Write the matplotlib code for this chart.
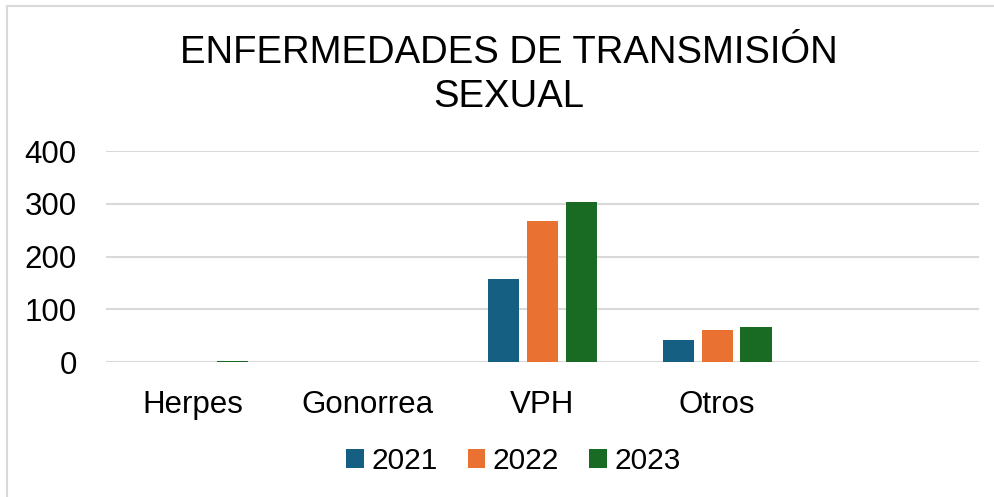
import matplotlib.pyplot as plt
import numpy as np
from matplotlib.patches import Rectangle

plt.rcParams['font.family'] = ['Liberation Sans', 'DejaVu Sans']

CATEGORIES = ['Herpes', 'Gonorrea', 'VPH', 'Otros', '']
YEARS = ['2021', '2022', '2023']
V2021 = [0, 0, 157, 42, 0]
V2022 = [0, 0, 268, 61, 0]
V2023 = [2, 0, 303, 66, 0]
COLORS = ['#156082', '#E97132', '#196B24']

fig = plt.figure(figsize=(9.95, 4.97), dpi=100)
ax = fig.add_axes([0.1065, 0.2716, 0.8774, 0.4245])

x = np.arange(len(CATEGORIES))
width = 0.178
step = 0.223
for i, (vals, year) in enumerate(zip([V2021, V2022, V2023], YEARS)):
    ax.bar(x + (i - 1) * step, vals, width, color=COLORS[i], label=year,
           linewidth=0, zorder=3)

ax.set_xlim(-0.5, len(CATEGORIES) - 0.5)
ax.set_ylim(0, 400)
ax.set_yticks(range(0, 401, 100))
ax.set_xticks(x)
ax.set_xticklabels(CATEGORIES)
ax.tick_params(axis='both', length=0, labelsize=22.5, colors='black')
ax.tick_params(axis='y', pad=21)
ax.tick_params(axis='x', pad=20)
ax.yaxis.grid(True, color='#d9d9d9', linewidth=1.5, zorder=0)
for s in ax.spines.values():
    s.set_visible(False)

fig.text(0.511, 0.849, 'ENFERMEDADES DE TRANSMISIÓN\nSEXUAL', ha='center',
         va='center', fontsize=27.5, linespacing=1.27)

fig.legend(loc='center', bbox_to_anchor=(0.516, 0.073), ncol=3, frameon=False,
           fontsize=21.5, handlelength=0.6, handleheight=0.6, handletextpad=0.25,
           columnspacing=1.0)

fig.patches.append(Rectangle((7 / 995, -0.1), 1.2, 1 - 6 / 497 + 0.1,
                             transform=fig.transFigure, fill=False,
                             edgecolor='#d9d9d9', linewidth=1.5))

fig.savefig('out.png', dpi=100)
